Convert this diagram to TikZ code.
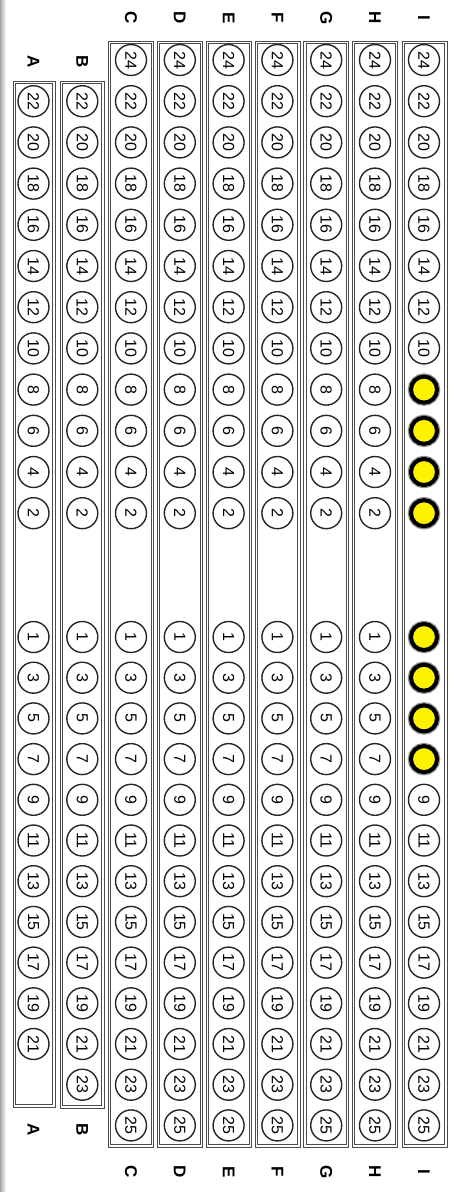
\documentclass[tikz,border=0pt]{standalone}
\usepackage{fontspec}
\setmainfont{Liberation Sans}
\begin{document}
\begin{tikzpicture}[x=1pt,y=-1pt,
  seat/.style={circle,draw=black!85,line width=1.4pt,minimum size=31pt,inner sep=0pt,
    font=\fontsize{16}{16}\selectfont,rotate=-90},
  sold/.style={circle,fill=yellow,draw=black,line width=4pt,minimum size=26pt,inner sep=0pt,
    preaction={draw=black!45,line width=6.5pt}},
  rowbox/.style={draw=black!70,line width=0.8pt},
  lbl/.style={font=\fontsize{17}{17}\selectfont\bfseries,rotate=-90,inner sep=0pt}]
\useasboundingbox (0,0) rectangle (454,1192);
\fill[left color=black!35,right color=white] (0,0) rectangle (6,1192);
% rows C..H (full)
\foreach \r/\x in {C/131,D/179.8,E/228.6,F/277.4,G/326.2,H/375}{
  \draw[rowbox] ({\x-22.5},41) rectangle ({\x+22.5},1147);
  \draw[rowbox] ({\x-20.3},43.2) rectangle ({\x+20.3},1144.8);
  \node[lbl] (\r-top) at (\x,18) {\r};
  \node[lbl] (\r-bot) at (\x,1172) {\r};
  \foreach \n in {24,22,...,2} \node[seat] (\r\n) at (\x,{60+(24-\n)*20.6}) {\n};
  \foreach \n in {1,3,...,25} \node[seat] (\r\n) at (\x,{637+(\n-1)*20.35}) {\n};
}
% row I
\draw[rowbox] (402,41) rectangle (447,1147);
\draw[rowbox] (404.2,43.2) rectangle (444.8,1144.8);
\node[lbl] (I-top) at (424,18) {I};
\node[lbl] (I-bot) at (424,1172) {I};
\foreach \n in {24,22,...,10} \node[seat] (I\n) at (424,{60+(24-\n)*20.6}) {\n};
\foreach \n in {8,6,4,2} \node[sold] (I\n) at (424,{60+(24-\n)*20.6}) {};
\foreach \n in {1,3,5,7} \node[sold] (I\n) at (424,{637+(\n-1)*20.35}) {};
\foreach \n in {9,11,...,25} \node[seat] (I\n) at (424,{637+(\n-1)*20.35}) {\n};
% row B
\draw[rowbox] (60.5,81) rectangle (104,1108);
\draw[rowbox] (62.7,83.2) rectangle (101.8,1105.8);
\node[lbl] (B-top) at (82.3,62) {B};
\node[lbl] (B-bot) at (82.3,1130) {B};
\foreach \n in {22,20,...,2} \node[seat] (B\n) at (82.3,{60+(24-\n)*20.6}) {\n};
\foreach \n in {1,3,...,23} \node[seat] (B\n) at (82.3,{637+(\n-1)*20.35}) {\n};
% row A
\draw[rowbox] (13,81) rectangle (55,1107);
\draw[rowbox] (15.2,83.2) rectangle (52.8,1104.8);
\node[lbl] (A-top) at (33.5,62) {A};
\node[lbl] (A-bot) at (33.5,1130) {A};
\foreach \n in {22,20,...,2} \node[seat] (A\n) at (33.5,{60+(24-\n)*20.6}) {\n};
\foreach \n in {1,3,...,21} \node[seat] (A\n) at (33.5,{637+(\n-1)*20.35}) {\n};
\end{tikzpicture}
\end{document}
